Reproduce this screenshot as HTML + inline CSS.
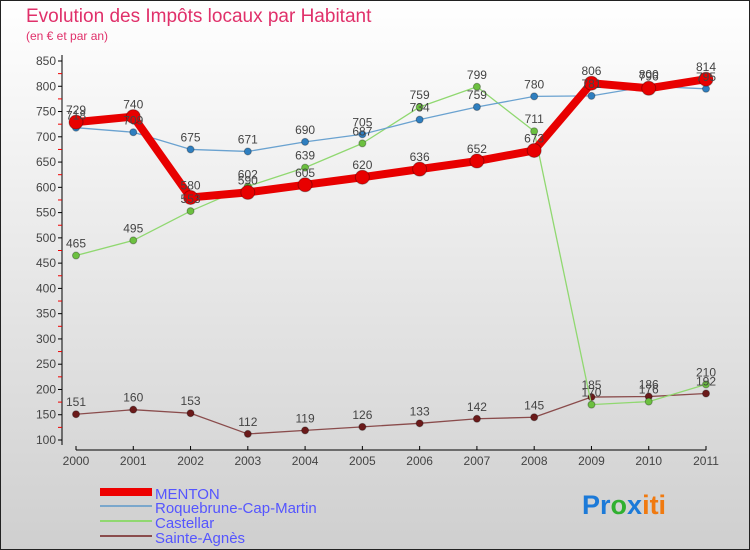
<!DOCTYPE html>
<html><head><meta charset="utf-8"><style>
body{margin:0}
svg{display:block;font-family:"Liberation Sans",sans-serif}
</style></head><body>
<svg id="c" width="750" height="550">
<defs><linearGradient id="bg" x1="0" y1="0" x2="0" y2="1"><stop offset="0" stop-color="#ffffff"/><stop offset="1" stop-color="#cfcfcf"/></linearGradient></defs>
<rect x="0.5" y="0.5" width="749" height="549" fill="url(#bg)" stroke="#222"/>
<text x="26" y="22" font-size="19" fill="#e0306a">Evolution des Impôts locaux par Habitant</text>
<text x="26" y="40" font-size="12" fill="#e0306a">(en € et par an)</text>
<g id="axes"></g><g id="series"></g><g id="labels"></g>
<g font-size="15" fill="#5555ff">
<g><rect x="100" y="488" width="52" height="8" fill="#e00"/><text x="155" y="499">MENTON</text></g>
<g><rect x="100" y="505" width="52" height="2" fill="#7aa7cc"/><text x="155" y="513">Roquebrune-Cap-Martin</text></g>
<g><rect x="100" y="520" width="52" height="2" fill="#90d870"/><text x="155" y="528">Castellar</text></g>
<g><rect x="100" y="535" width="52" height="2" fill="#8a4c4c"/><text x="155" y="543">Sainte-Agnès</text></g>
</g>
<text x="582" y="514" font-size="27" font-weight="bold"><tspan fill="#1c7ad8">Pr</tspan><tspan fill="#30b030">o</tspan><tspan fill="#1c7ad8">x</tspan><tspan fill="#f07a10">iti</tspan></text>
</svg>
<script>
const years=["2000","2001","2002","2003","2004","2005","2006","2007","2008","2009","2010","2011"];
const yTicks=[100,150,200,250,300,350,400,450,500,550,600,650,700,750,800,850];
const menton=[729,740,580,590,605,620,636,652,673,806,796,814];
const roquebrune=[718,709,675,671,690,705,734,759,780,781,800,795];
const castellar=[465,495,553,602,639,687,759,799,711,170,176,210];
const sainteAgnes=[151,160,153,112,119,126,133,142,145,185,186,192];
const NS="http://www.w3.org/2000/svg";
const X=i=>76+i*(630/11);
const Y=v=>61+(850-v)*(379/750);
function mk(t,a,p){const e=document.createElementNS(NS,t);for(const k in a)e.setAttribute(k,a[k]);p.appendChild(e);return e;}
const ax=document.getElementById('axes');
let yl=mk('line',{x1:62,y1:55,x2:62,y2:445,stroke:'#000'},ax);


yTicks.forEach((v,i)=>{
 mk('line',{x1:58,y1:Y(v),x2:62,y2:Y(v),stroke:'#000'},ax);
 if(i<yTicks.length-1)mk('line',{x1:58,y1:Y(v+25),x2:62,y2:Y(v+25),stroke:'#e00'},ax);
 const t=mk('text',{x:56,y:Y(v)+4,'text-anchor':'end','font-size':12,fill:'#444'},ax);t.textContent=v;
 
 
});
let xl=mk('line',{x1:76,y1:450,x2:706,y2:450,stroke:'#000'},ax);


years.forEach((y,i)=>{
 mk('line',{x1:X(i),y1:446,x2:X(i),y2:450,stroke:'#000'},ax);
 const t=mk('text',{x:X(i),y:465,'text-anchor':'middle','font-size':12,fill:'#444'},ax);t.textContent=y;
 
 
});
const S=document.getElementById('series'),L=document.getElementById('labels');
function draw(d,name,col,w,r,dot){
 const g=mk('g',{},S);
 
 
 mk('polyline',{points:d.map((v,i)=>X(i)+','+Y(v)).join(' '),fill:'none',stroke:col,'stroke-width':w,'stroke-linejoin':'round'},g);
 d.forEach((v,i)=>{
  const c=mk('circle',{cx:X(i),cy:Y(v),r:r,fill:dot,stroke:'rgba(0,0,0,0.3)'},g);
  
  
  const t=mk('text',{x:X(i),y:Y(v)-8,'text-anchor':'middle','font-size':12,fill:'#444'},L);t.textContent=v;
  
  
 });
}
draw(sainteAgnes,'sainte-agnes','#8a4c4c',1.3,3.5,'#6b1a1a');
draw(castellar,'castellar','#90d870',1.3,3.5,'#6cc040');
draw(roquebrune,'roquebrune','#6aa2d0',1.3,3.5,'#2f7fc0');
draw(menton,'menton','#e80000',8,7,'#e80000');
</script>
</body></html>
